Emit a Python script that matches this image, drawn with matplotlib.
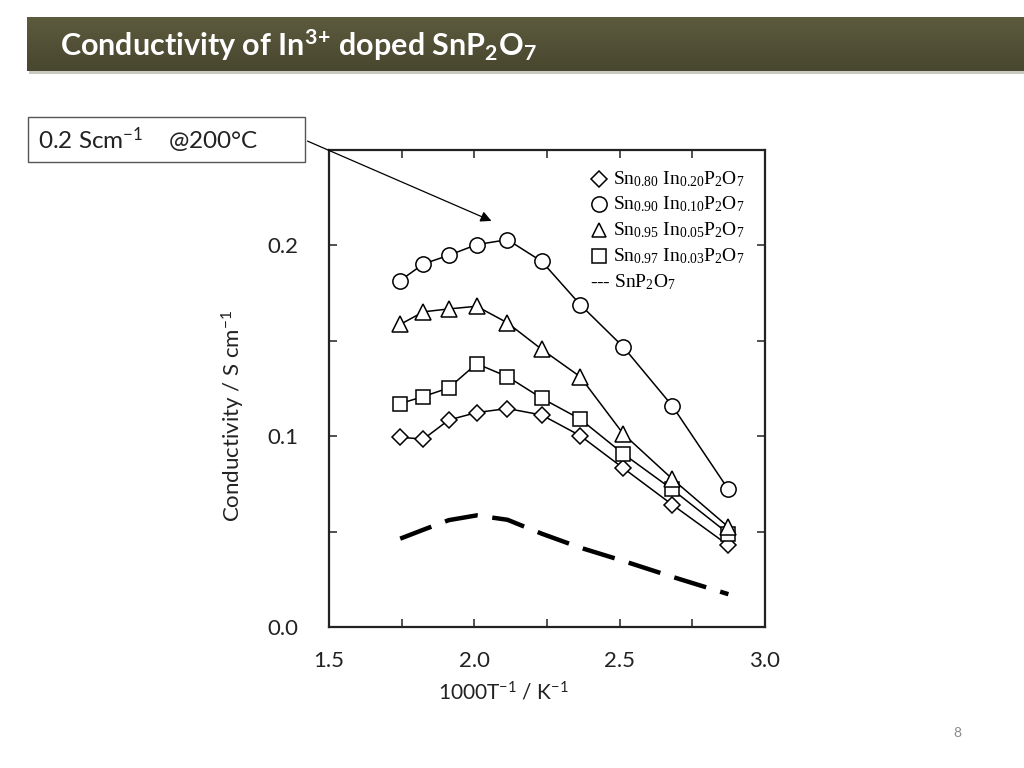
"""Conductivity of In3+ doped SnP2O7 -- slide-style recreation."""

import matplotlib
matplotlib.use("Agg")
import matplotlib.pyplot as plt
import numpy as np
from matplotlib.patches import Rectangle
from matplotlib.ticker import MultipleLocator

# 1000/T positions (K^-1), shared by every series
inv_t = [1.745, 1.825, 1.912, 2.008, 2.114, 2.232, 2.364, 2.513, 2.681, 2.874]

# conductivity (S cm^-1)
sig_in20 = [0.0994, 0.0985, 0.1085, 0.1124, 0.1145, 0.1111, 0.1003, 0.0832, 0.0641, 0.0428]
sig_in10 = [0.1816, 0.1903, 0.1948, 0.2004, 0.2030, 0.1916, 0.1690, 0.1467, 0.1159, 0.0721]
sig_in05 = [0.1586, 0.1652, 0.1667, 0.1681, 0.1594, 0.1455, 0.1312, 0.1011, 0.0776, 0.0524]
sig_in03 = [0.1171, 0.1208, 0.1253, 0.1380, 0.1312, 0.1199, 0.1090, 0.0907, 0.0721, 0.0489]
sig_pure = [0.0463, 0.0510, 0.0560, 0.0585, 0.0562, 0.0489, 0.0416, 0.0346, 0.0263, 0.0172]

legend_labels = [
    "Sn$_{0.80}$ In$_{0.20}$P$_2$O$_7$",
    "Sn$_{0.90}$ In$_{0.10}$P$_2$O$_7$",
    "Sn$_{0.95}$ In$_{0.05}$P$_2$O$_7$",
    "Sn$_{0.97}$ In$_{0.03}$P$_2$O$_7$",
]
legend_markers = ["D", "o", "^", "s"]

plt.rcParams["mathtext.default"] = "regular"
SANS = ["Lato", "DejaVu Sans"]
SERIF = ["Liberation Serif", "DejaVu Serif"]

W, H = 1024, 768
fig = plt.figure(figsize=(W / 100, H / 100), dpi=100)


def fx(px):
    return px / W


def fy(py):
    return 1 - py / H


# ---- header bar ---------------------------------------------------------
shadow = fig.add_axes([fx(29), fy(74), 1 - fx(29), (74 - 19) / H])
shadow.axis("off")
shadow.add_patch(Rectangle((0, 0), 1, 1, color="#c9c9c0", transform=shadow.transAxes))
bar = fig.add_axes([fx(27), fy(71), 1 - fx(27), (71 - 17) / H])
bar.axis("off")
grad = np.linspace(0, 1, 64).reshape(-1, 1)
bar.imshow(grad, aspect="auto", extent=[0, 1, 0, 1],
           cmap=matplotlib.colors.LinearSegmentedColormap.from_list(
               "olive", ["#5c5b3e", "#48472f"]))
fig.text(fx(60), fy(45), r"Conductivity of In$^{3\!+\!}$ doped SnP$_2$O$_7$",
         color="white", fontsize=22, fontweight="bold", family=SANS,
         va="center", ha="left")

# ---- annotation box + arrow --------------------------------------------
fig.patches.append(Rectangle((fx(28), fy(162)), fx(305) - fx(28), (162 - 117) / H,
                             transform=fig.transFigure, fill=False,
                             edgecolor="#555555", linewidth=1.0))
fig.text(fx(38), fy(140), "0.2 Scm$^{-1}$    @200\u00b0C", fontsize=17.5,
         family=SANS, va="center", ha="left", color="#222222")
fig.add_artist(matplotlib.patches.FancyArrowPatch(
    (fx(305), fy(140)), (fx(494), fy(222)), transform=fig.transFigure,
    arrowstyle="-|>", mutation_scale=16, color="black", linewidth=0.9))

# ---- main axes ----------------------------------------------------------
ax = fig.add_axes([fx(329), fy(627), fx(765) - fx(329), (627 - 150) / H])

mk = dict(color="black", linewidth=1.1, markerfacecolor="white",
          markeredgecolor="black", markeredgewidth=1.1, zorder=3)
ax.plot(inv_t, sig_in20, marker="D", markersize=8, **mk)
ax.plot(inv_t, sig_in03, marker="s", markersize=10, **mk)
ax.plot(inv_t, sig_in05, marker="^", markersize=11, **mk)
ax.plot(inv_t, sig_in10, marker="o", markersize=11, **mk)
ax.plot(inv_t, sig_pure, color="black", linewidth=3.2, linestyle=(0, (7.5, 3.3)),
        zorder=2)

ax.set_xlim(1.5, 3.0)
ax.set_ylim(0.0, 0.25)
ax.xaxis.set_major_locator(MultipleLocator(0.5))
ax.xaxis.set_minor_locator(MultipleLocator(0.25))
ax.yaxis.set_major_locator(MultipleLocator(0.1))
ax.yaxis.set_minor_locator(MultipleLocator(0.05))
ax.xaxis.set_major_formatter(matplotlib.ticker.FormatStrFormatter("%.1f"))
ax.yaxis.set_major_formatter(matplotlib.ticker.FormatStrFormatter("%.1f"))
ax.tick_params(which="both", direction="in", top=True, right=True,
               length=6, width=1.2, color="#333333")
ax.tick_params(axis="x", which="major", pad=17, labelsize=16)
ax.tick_params(axis="y", which="major", pad=22, labelsize=16)
for t in ax.yaxis.get_major_ticks() + ax.yaxis.get_minor_ticks():
    t.tick1line.set_color("#bbbbbb")
for lbl in ax.get_xticklabels() + ax.get_yticklabels():
    lbl.set_family(SANS)
    lbl.set_color("#222222")
for s in ax.spines.values():
    s.set_linewidth(1.6)
    s.set_color("#222222")

fig.text(fx(233), fy(416), "Conductivity / S cm$^{-1}$", rotation=90,
         fontsize=16, family=SANS, ha="center", va="center", color="#222222")
fig.text(fx(503), fy(692), "1000T$^{-1}$ / K$^{-1}$", fontsize=15,
         family=SANS, ha="center", va="center", color="#222222")

# ---- legend (manual, slide style) --------------------------------------
rows = [179, 204, 230, 256]
msize = {"D": 8, "o": 11, "^": 10, "s": 10}
for m, lab, ry in zip(legend_markers, legend_labels, rows):
    fig.add_artist(matplotlib.lines.Line2D(
        [fx(599)], [fy(ry)], marker=m, markersize=msize[m], linestyle="none",
        markerfacecolor="white", markeredgecolor="black", markeredgewidth=1.1,
        transform=fig.transFigure))
    fig.text(fx(613), fy(ry), lab, fontsize=14, family=SERIF,
             ha="left", va="center")
fig.text(fx(590), fy(282), "--- SnP$_2$O$_7$", fontsize=14, family=SERIF,
         ha="left", va="center")

# page number
fig.text(fx(957), fy(733), "8", fontsize=10, color="#8a8a8a", family=SANS,
         ha="center", va="center")

fig.savefig("out.png", dpi=100)
